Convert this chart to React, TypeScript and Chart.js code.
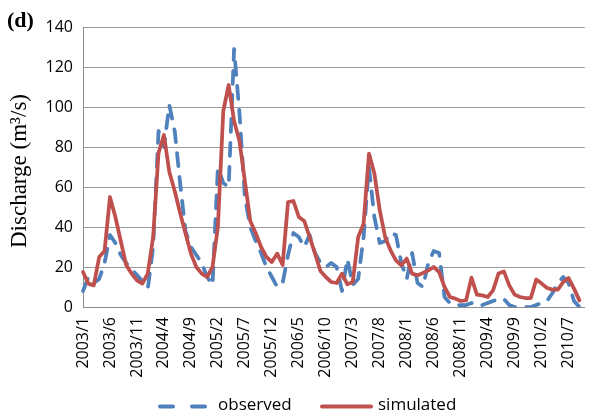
import React, { useEffect, useRef } from 'react';
import { Chart, registerables } from 'chart.js';

Chart.register(...registerables);

// Monthly categories 2003/1 .. 2010/10
const years = [2003, 2004, 2005, 2006, 2007, 2008, 2009, 2010];
const monthNums = [1, 2, 3, 4, 5, 6, 7, 8, 9, 10, 11, 12];
const categories: string[] = years.flatMap((y) => monthNums.map((m) => `${y}/${m}`)).slice(0, 94);

const tickLabels = [
  '2003/1', '2003/6', '2003/11', '2004/4', '2004/9', '2005/2', '2005/7', '2005/12',
  '2006/5', '2006/10', '2007/3', '2007/8', '2008/1', '2008/6', '2008/11', '2009/4',
  '2009/9', '2010/2', '2010/7',
];

const observed = [
  8, 15, 12, 14, 22, 36, 32, 26, 22, 19, 16, 13,
  9, 30, 88, 80, 101, 88, 62, 38, 30, 26, 22, 15,
  11, 70, 62, 60, 129, 97, 55, 40, 33, 27, 20, 15,
  10, 12, 26, 37, 35, 30, 36, 27, 22, 20, 22, 20,
  8, 24, 11, 14, 35, 70, 45, 32, 33, 37, 36, 22,
  14, 27, 12, 10, 22, 28, 27, 5, 2, 1, 1, 1,
  2, 1, 1, 2, 3, 4, 4, 1, 0, 0, 0, 0,
  1, 2, 3, 7, 12, 15, 12, 3, 0,
];

const simulated = [
  17.5, 11.7, 10.8, 25, 28, 55, 45, 33, 21, 16.7, 13.3, 11.7,
  16.7, 35, 77, 86, 67.5, 58, 47, 36.7, 26.7, 20, 16.7, 15,
  20, 40, 98, 111, 93, 83, 63, 43, 37, 30, 25, 22.5,
  26.7, 21, 52.5, 53, 45, 43, 35, 26.7, 18, 15, 12.5, 12,
  16.7, 11.3, 12.5, 35, 41.7, 76.7, 66.7, 48.3, 35, 28.3, 23.3, 20.8,
  24.2, 16.7, 15.8, 17, 18.3, 20, 17.5, 10, 5, 4.2, 3, 3.3,
  14.7, 6.2, 5.8, 5, 8.3, 16.7, 17.8, 10.8, 6.2, 5, 4.5, 4.5,
  13.7, 11.7, 9.5, 8.7, 8.7, 12.5, 14.5, 9.2, 3.3,
];

const yTitle = 'Discharge (m³/s)';
const panelLabel = '(d)';
const seriesNames = ['observed', 'simulated'];

const BLUE = '#4f81bd';
const RED = '#c0504d';
const SANS = '"Open Sans", "Liberation Sans", sans-serif';
const SERIF = '"Liberation Serif", "DejaVu Serif", serif';

const decorations = {
  id: 'decorations',
  afterDraw(chart: any) {
    const ctx = chart.ctx as CanvasRenderingContext2D;
    ctx.save();
    // panel label
    ctx.fillStyle = '#000';
    ctx.font = `bold 22px ${SERIF}`;
    ctx.textAlign = 'left';
    ctx.textBaseline = 'middle';
    ctx.fillText(panelLabel, 7, 21);
    // y title
    ctx.save();
    ctx.translate(20, 171);
    ctx.rotate(-Math.PI / 2);
    ctx.font = `23px ${SERIF}`;
    ctx.textAlign = 'center';
    ctx.textBaseline = 'middle';
    ctx.fillText(yTitle, 0, 0);
    ctx.restore();
    // legend
    const ly = 406.5;
    ctx.lineCap = 'round';
    ctx.lineWidth = 4;
    ctx.strokeStyle = BLUE;
    ctx.beginPath();
    ctx.moveTo(160, ly);
    ctx.lineTo(173, ly);
    ctx.moveTo(192, ly);
    ctx.lineTo(205, ly);
    ctx.stroke();
    ctx.strokeStyle = RED;
    ctx.beginPath();
    ctx.moveTo(322, ly);
    ctx.lineTo(371, ly);
    ctx.stroke();
    ctx.fillStyle = '#000';
    ctx.font = `17px ${SANS}`;
    ctx.textAlign = 'left';
    ctx.textBaseline = 'middle';
    ctx.fillText(seriesNames[0], 218, 405);
    ctx.fillText(seriesNames[1], 378, 405);
    ctx.restore();
  },
};

export default function App() {
  const ref = useRef<HTMLCanvasElement | null>(null);
  useEffect(() => {
    if (!ref.current) return;
    const chart = new Chart(ref.current, {
      type: 'line',
      data: {
        labels: categories,
        datasets: [
          {
            label: seriesNames[0],
            data: observed,
            borderColor: BLUE,
            borderWidth: 3.75,
            borderDash: [13, 11],
            borderCapStyle: 'round',
            borderJoinStyle: 'round',
            pointRadius: 0,
            tension: 0,
            fill: false,
            order: 1,
          },
          {
            label: seriesNames[1],
            data: simulated,
            borderColor: RED,
            borderWidth: 3.75,
            borderCapStyle: 'round',
            borderJoinStyle: 'round',
            pointRadius: 0,
            tension: 0,
            fill: false,
            order: 0,
          },
        ],
      },
      options: {
        responsive: false,
        animation: false,
        layout: { padding: { top: 27, right: 0, bottom: 0, left: 0 } },
        plugins: {
          legend: { display: false },
          tooltip: { enabled: false },
        },
        scales: {
          x: {
            type: 'category',
            offset: false,
            grid: { display: false, drawTicks: false },
            border: { display: true, color: '#8c8c8c', width: 1 },
            ticks: {
              autoSkip: false,
              maxRotation: 90,
              minRotation: 90,
              padding: 10,
              color: '#000',
              font: { family: SANS, size: 16 },
              callback: (_v: any, i: number) => (tickLabels.includes(categories[i]) ? categories[i] : ''),
            },
            afterFit: (s: any) => {
              s.height = 112;
            },
          },
          y: {
            min: 0,
            max: 140,
            grid: { color: '#9a9a9a', lineWidth: 1, drawTicks: false },
            border: { display: true, color: '#8c8c8c', width: 1 },
            ticks: {
              stepSize: 20,
              padding: 10,
              color: '#000',
              font: { family: SANS, size: 16 },
            },
            afterFit: (s: any) => {
              s.width = 83;
            },
          },
        },
      },
      plugins: [decorations],
    });
    return () => chart.destroy();
  }, []);
  return (
    <div style={{ position: 'absolute', left: 0, top: 0, width: 614, height: 419 }}>
      <canvas ref={ref} width={614} height={419} />
    </div>
  );
}
